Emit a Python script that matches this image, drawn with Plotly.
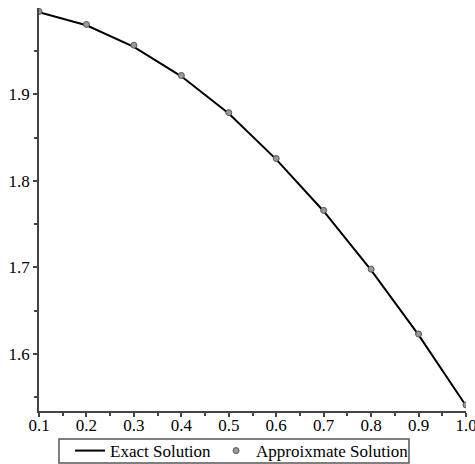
import plotly.graph_objects as go

x_vals = [0.1, 0.2, 0.3, 0.4, 0.5, 0.6, 0.7, 0.8, 0.9, 1.0]
exact_vals = [1.995, 1.980, 1.955, 1.921, 1.878, 1.825, 1.765, 1.697, 1.622, 1.540]
approx_vals = [1.996, 1.981, 1.957, 1.922, 1.879, 1.826, 1.766, 1.698, 1.623, 1.541]
x_ticks = [0.1, 0.2, 0.3, 0.4, 0.5, 0.6, 0.7, 0.8, 0.9, 1.0]
x_tick_text = ["0.1", "0.2", "0.3", "0.4", "0.5", "0.6", "0.7", "0.8", "0.9", "1.0"]
y_ticks = [1.6, 1.7, 1.8, 1.9]
y_tick_text = ["1.6", "1.7", "1.8", "1.9"]

fam = "Times New Roman, Liberation Serif, DejaVu Serif, serif"
font = dict(family=fam, size=17, color="black")
legend_font = dict(family=fam, size=17, color="black")

fig = go.Figure()
fig.add_trace(go.Scatter(x=x_vals, y=exact_vals, mode="lines", name="Exact Solution",
                         line=dict(color="black", width=2)))
fig.add_trace(go.Scatter(x=x_vals, y=approx_vals, mode="markers", name="Approixmate Solution",
                         marker=dict(color="#999999", size=6, symbol="circle",
                                     line=dict(color="#555555", width=1))))

fig.update_layout(
    width=475, height=464,
    margin=dict(l=39, r=9, t=8, b=53, autoexpand=False),
    paper_bgcolor="white", plot_bgcolor="white",
    font=font,
    showlegend=True,
    legend=dict(orientation="h", x=0.0726, xanchor="left", y=-0.0993, yanchor="middle",
                borderwidth=0, bgcolor="rgba(0,0,0,0)", font=legend_font,
                itemwidth=30, tracegroupgap=0, valign="middle"),
    shapes=[dict(type="rect", xref="paper", yref="paper",
                 x0=0.0468, x1=0.8665, y0=-0.129, y1=-0.0695,
                 line=dict(color="#555555", width=1.5), fillcolor="rgba(0,0,0,0)")],
    xaxis=dict(range=[0.1, 1.0], tickvals=x_ticks, ticktext=x_tick_text,
               showgrid=False, zeroline=False, showline=True, linecolor="#444444", linewidth=1.5,
               ticks="outside", ticklen=4, tickcolor="#444444", tickwidth=1.5,
               ticklabeloverflow="allow", automargin=False, ticklabelstandoff=-6,
               minor=dict(dtick=0.05, ticks="outside", ticklen=3, tickcolor="#444444", tickwidth=1.5, showgrid=False),
               tickfont=font),
    yaxis=dict(range=[1.534, 2.0], tickvals=y_ticks, ticktext=y_tick_text,
               showgrid=False, zeroline=False, showline=True, linecolor="#444444", linewidth=1.5,
               ticks="outside", ticklen=4, tickcolor="#444444", tickwidth=1.5,
               automargin=False,
               minor=dict(tickvals=[1.55, 1.65, 1.75, 1.85, 1.95], ticks="outside", ticklen=3,
                          tickcolor="#444444", tickwidth=1.5, showgrid=False),
               tickfont=font),
)

fig.write_html("out.html")
